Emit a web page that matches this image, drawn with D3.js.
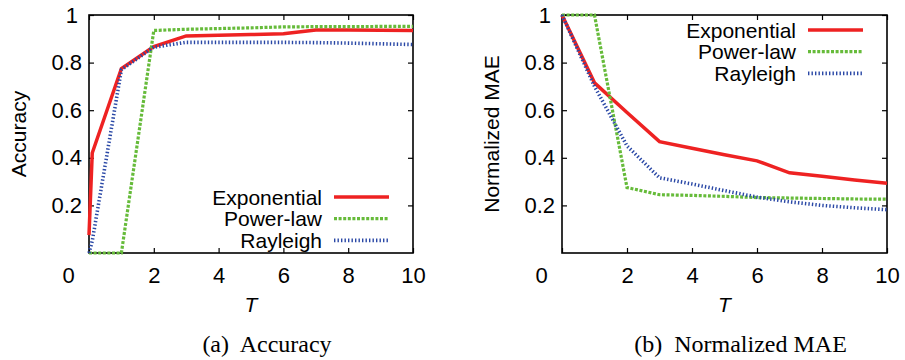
<!DOCTYPE html>
<html>
<head>
<meta charset="utf-8">
<script src="https://cdn.jsdelivr.net/npm/d3@7/dist/d3.min.js"></script>
<style>
  body { margin: 0; background: #fff; }
  svg { display: block; }
</style>
</head>
<body>
<script>
var width = 905;
var height = 360;

// data
var series = ["Exponential", "Power-law", "Rayleigh"];
var colors = ["#ee2222", "#66bb3a", "#2a48a6"];

var tAcc = [0, 0.1, 1, 2, 3, 4, 5, 6, 7, 8, 9, 10];
var accExp   = [0.075, 0.42, 0.775, 0.867, 0.912, 0.915, 0.918, 0.921, 0.937, 0.937, 0.936, 0.935];
var accPower = [0, 0, 0, 0.935, 0.94, 0.943, 0.946, 0.95, 0.951, 0.951, 0.952, 0.952];
var accRay   = [0, 0.05, 0.77, 0.865, 0.885, 0.885, 0.885, 0.885, 0.884, 0.882, 0.879, 0.876];

var tMae = [0, 1, 2, 3, 4, 5, 6, 7, 8, 9, 10];
var maeExp   = [1, 0.715, 0.59, 0.468, 0.44, 0.413, 0.387, 0.337, 0.322, 0.307, 0.293];
var maePower = [1, 1, 0.275, 0.245, 0.242, 0.238, 0.233, 0.231, 0.229, 0.227, 0.226];
var maeRay   = [1, 0.70, 0.45, 0.316, 0.29, 0.262, 0.235, 0.215, 0.2, 0.19, 0.182];

var xTicks = [0, 2, 4, 6, 8, 10];
var yTicks = [0.2, 0.4, 0.6, 0.8, 1];

var canvas = d3.select("body")
    .append("svg")
    .attr("width", width)
    .attr("height", height);

function styleLine(sel, i) {
    sel.attr("stroke", colors[i]).attr("fill", "none");
    if (i == 0) {
        sel.attr("stroke-width", 3.5);
    } else if (i == 1) {
        sel.attr("stroke-width", 3.2).attr("stroke-dasharray", "3,1.6");
    } else {
        sel.attr("stroke-width", 3.6).attr("stroke-dasharray", "1.4,2.1");
    }
}

function makePanel(left, right, yTitle, caption, tVals, data, legendTop) {
    var top = 15, bottom = 253;
    var x = d3.scaleLinear().domain([0, 10]).range([left, right]);
    var y = d3.scaleLinear().domain([0, 1]).range([bottom, top]);
    var g = canvas.append("g");

    // bottom axis with labels
    var bx = g.append("g")
        .attr("transform", "translate(0," + bottom + ")")
        .call(d3.axisBottom(x).tickValues(xTicks).tickSizeInner(-5).tickSizeOuter(0).tickPadding(14));
    // left axis with labels
    var ly = g.append("g")
        .attr("transform", "translate(" + left + ",0)")
        .call(d3.axisLeft(y).tickValues(yTicks).tickFormat(d3.format("")).tickSizeInner(-5).tickSizeOuter(0).tickPadding(7));
    // top and right ticks only
    var tx = g.append("g")
        .attr("transform", "translate(0," + top + ")")
        .call(d3.axisTop(x).tickValues(xTicks).tickSizeInner(-5).tickSizeOuter(0).tickFormat(""));
    var ry = g.append("g")
        .attr("transform", "translate(" + right + ",0)")
        .call(d3.axisRight(y).tickValues(yTicks).tickSizeInner(-5).tickSizeOuter(0).tickFormat(""));

    [bx, ly, tx, ry].forEach(function(a) {
        a.select(".domain").remove();
        a.selectAll("line").attr("stroke", "#000").attr("stroke-width", 1.2);
        a.selectAll("text")
            .attr("font-family", "'Liberation Sans', Arial, sans-serif")
            .attr("font-size", 22)
            .attr("fill", "#000");
    });
    // the "0" on x is pushed left, as in the original
    bx.selectAll(".tick text").filter(function(d) { return d == 0; }).attr("dx", -21);
    ly.selectAll(".tick text").filter(function(d) { return d == 1; }).attr("dx", -4);

    g.append("rect")
        .attr("x", left).attr("y", top)
        .attr("width", right - left).attr("height", bottom - top)
        .attr("fill", "none").attr("stroke", "#000").attr("stroke-width", 1.6);

    // series lines
    data.forEach(function(vals, i) {
        var pts = tVals.map(function(t, j) { return [t, vals[j]]; });
        var line = d3.line()
            .x(function(d) { return x(d[0]); })
            .y(function(d) { return y(d[1]); });
        g.append("path")
            .attr("d", line(pts))
            .attr("stroke-linejoin", "miter")
            .call(styleLine, i);
    });

    // legend
    series.forEach(function(name, i) {
        var ry0 = legendTop + i * 21.7;
        g.append("text")
            .attr("x", right - 91)
            .attr("y", ry0)
            .attr("dy", "0.36em")
            .attr("text-anchor", "end")
            .attr("font-family", "'Liberation Sans', Arial, sans-serif")
            .attr("font-size", 21)
            .text(name);
        g.append("line")
            .attr("x1", right - 79).attr("x2", right - 24)
            .attr("y1", ry0).attr("y2", ry0)
            .call(styleLine, i);
    });

    // axis titles
    g.append("text")
        .attr("transform", "translate(" + (left - 71) + "," + ((top + bottom) / 2) + ") rotate(-90)")
        .attr("text-anchor", "middle")
        .attr("dy", "0.36em")
        .attr("font-family", "'Liberation Sans', Arial, sans-serif")
        .attr("font-size", 21)
        .text(yTitle);
    g.append("text")
        .attr("x", (left + right) / 2)
        .attr("y", 312)
        .attr("text-anchor", "middle")
        .attr("font-family", "'Liberation Sans', Arial, sans-serif")
        .attr("font-style", "italic")
        .attr("font-size", 21)
        .text("T");

    // caption
    g.append("text")
        .attr("x", (left + right) / 2 + 16)
        .attr("y", 352)
        .attr("text-anchor", "middle")
        .attr("font-family", "'Liberation Serif', 'Times New Roman', serif")
        .attr("font-size", 24)
        .attr("xml:space", "preserve")
        .text(caption);
}

makePanel(89, 413, "Accuracy", "(a)  Accuracy", tAcc, [accExp, accPower, accRay], 197);
makePanel(562, 887, "Normalized MAE", "(b)  Normalized MAE", tMae, [maeExp, maePower, maeRay], 30);
</script>
</body>
</html>
